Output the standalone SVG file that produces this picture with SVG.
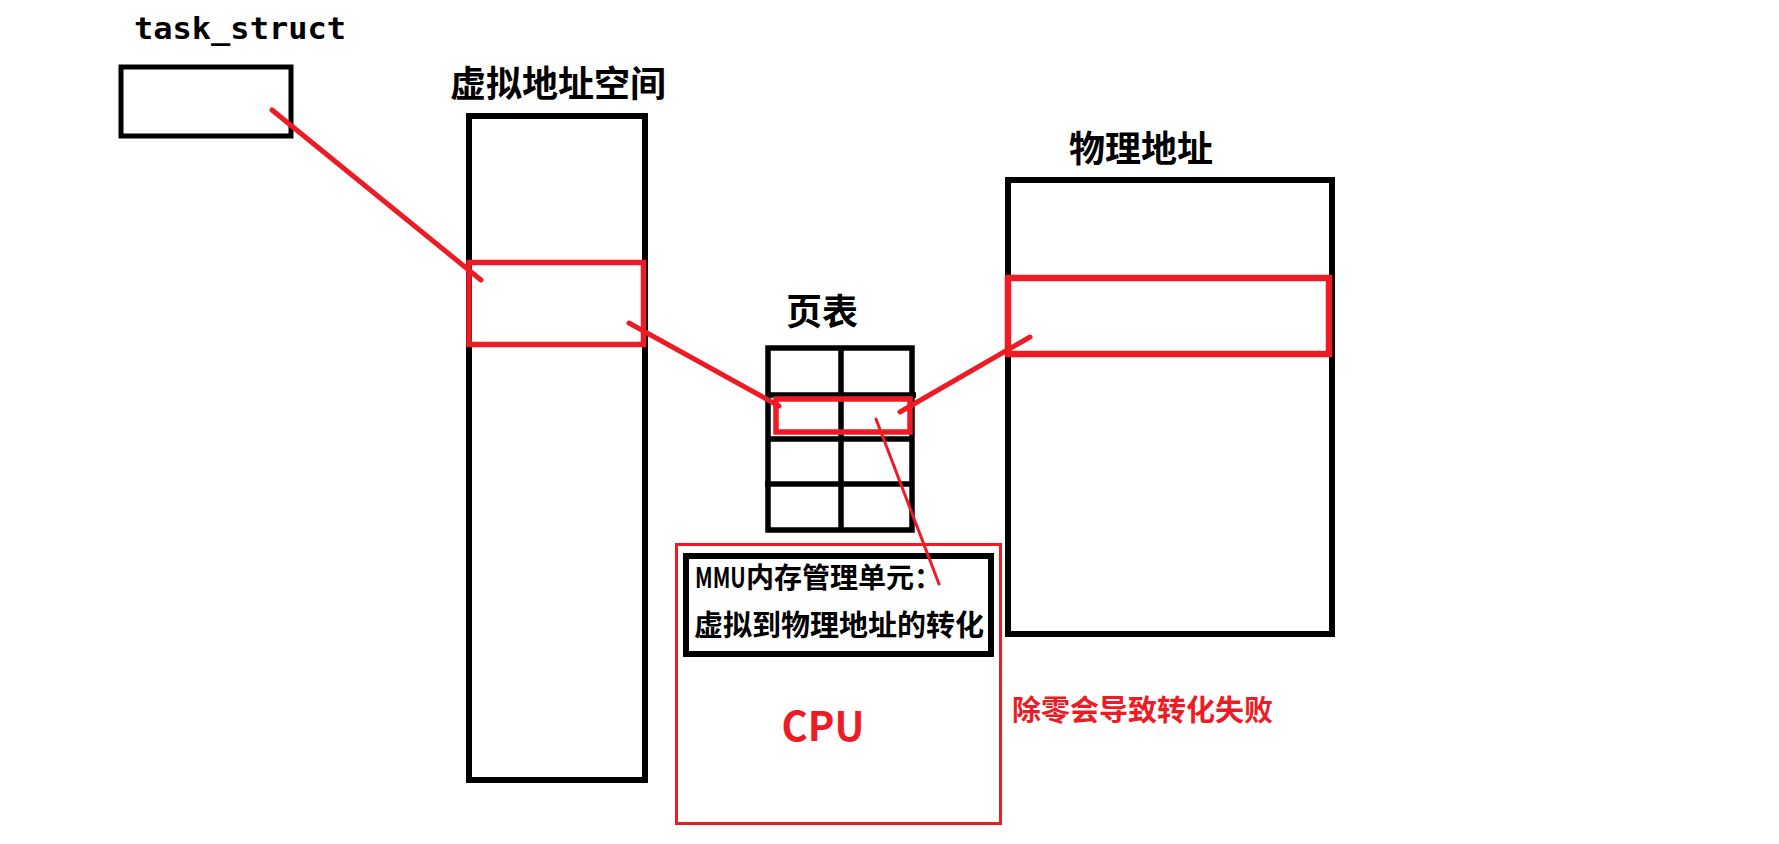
<svg xmlns="http://www.w3.org/2000/svg" width="1779" height="844" viewBox="0 0 1779 844">
<style>
.blk{fill:none;stroke:#000}
.red{fill:none;stroke:#ED1C24}
.conn{stroke:#ED1C24;stroke-linecap:round;fill:none}
.lbl{font-family:"Noto Sans CJK SC","Noto Sans",sans-serif;font-weight:bold;fill:#000}
.rtxt{font-family:"Noto Sans CJK SC","Noto Sans",sans-serif;font-weight:bold;fill:#ED1C24}
</style>
<rect width="1779" height="844" fill="#fff"/>
<g id="task_struct">
<text x="134" y="39" font-family="DejaVu Sans Mono, monospace" font-weight="bold" font-size="30" textLength="212" lengthAdjust="spacingAndGlyphs" fill="#000">task_struct</text>
<rect x="121" y="67" width="170" height="69" class="blk" stroke-width="5"/>
</g>
<g id="virtual-space">
<text x="450" y="97" class="lbl" font-size="36">虚拟地址空间</text>
<rect x="469" y="116" width="176" height="664" class="blk" stroke-width="6"/>
<rect x="469" y="262.5" width="174.5" height="82" class="red" stroke-width="5.5"/>
</g>
<g id="page-table">
<text x="786" y="325" class="lbl" font-size="36">页表</text>
<rect x="768" y="348" width="144" height="182" class="blk" stroke-width="5.5"/>
<line x1="841" y1="348" x2="841" y2="530" class="blk" stroke-width="5.5"/>
<line x1="766" y1="395" x2="916" y2="395" class="blk" stroke-width="5.5"/>
<line x1="766" y1="439" x2="914" y2="439" class="blk" stroke-width="5.5"/>
<line x1="765" y1="484" x2="914" y2="484" class="blk" stroke-width="5.5"/>
<rect x="776" y="399" width="134" height="33" class="red" stroke-width="5.5"/>
</g>
<g id="physical">
<text x="1069" y="162" class="lbl" font-size="36">物理地址</text>
<rect x="1008" y="180" width="324" height="454" class="blk" stroke-width="6"/>
<rect x="1008" y="278" width="321" height="76" class="red" stroke-width="6.5"/>
</g>
<g id="cpu">
<rect x="676.5" y="544.5" width="324" height="279" class="red" stroke-width="3"/>
<text x="823" y="741" class="rtxt" font-size="40" text-anchor="middle">CPU</text>
</g>
<g id="mmu">
<rect x="686" y="556" width="305" height="98" class="blk" stroke-width="6"/>
<text transform="translate(695 588) scale(0.74 1)" class="lbl" font-size="28">MMU</text>
<text x="746" y="588" class="lbl" font-size="28">内存管理单元：</text>
<text x="694" y="636" class="lbl" font-size="29">虚拟到物理地址的转化</text>
</g>
<g id="note">
<text x="1012" y="721" class="rtxt" font-size="29">除零会导致转化失败</text>
</g>
<g id="connectors">
<line x1="272" y1="110" x2="481" y2="280" class="conn" stroke-width="5"/>
<line x1="629" y1="323" x2="779" y2="406" class="conn" stroke-width="5"/>
<line x1="1030" y1="337" x2="900" y2="412" class="conn" stroke-width="5"/>
<line x1="876" y1="419" x2="939" y2="584" class="conn" stroke-width="3"/>
</g>
</svg>
